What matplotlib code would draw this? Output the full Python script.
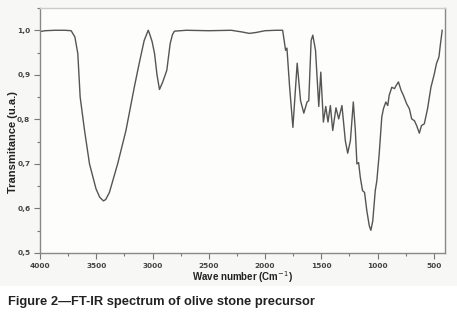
import matplotlib
matplotlib.use("Agg")
import matplotlib.pyplot as plt
from matplotlib.patches import Rectangle
from matplotlib.ticker import MultipleLocator, FuncFormatter

wavenumber = [4000, 3956, 3867, 3779, 3723, 3690, 3664, 3643, 3604, 3560, 3502, 3469, 3436, 3416,
              3383, 3310, 3236, 3162, 3118, 3074, 3038, 3027, 3004, 2982, 2960, 2938, 2909, 2873,
              2843, 2823, 2805, 2700, 2500, 2300, 2200, 2140, 2080, 2000, 1900, 1843, 1817, 1805,
              1781, 1752, 1714, 1684, 1655, 1626, 1611, 1590, 1575, 1551, 1522, 1504, 1481, 1460,
              1440, 1419, 1398, 1369, 1345, 1316, 1286, 1265, 1241, 1215, 1197, 1183, 1168, 1153,
              1133, 1115, 1095, 1073, 1059, 1042, 1020, 1006, 985, 962, 947, 926, 909, 896, 873,
              849, 834, 814, 790, 770, 741, 717, 696, 672, 652, 628, 609, 584, 555, 525, 495, 476,
              454, 440, 425]
transmittance = [0.997, 0.999, 1.0, 1.0, 0.999, 0.985, 0.948, 0.85, 0.775, 0.70, 0.644, 0.625,
                 0.617, 0.620, 0.636, 0.70, 0.775, 0.872, 0.926, 0.977, 1.0, 0.993, 0.975, 0.948,
                 0.90, 0.867, 0.884, 0.91, 0.97, 0.99, 0.998, 1.0, 0.999, 1.0, 0.996, 0.993, 0.995,
                 0.999, 1.0, 1.0, 0.955, 0.96, 0.872, 0.782, 0.926, 0.842, 0.814, 0.839, 0.842,
                 0.977, 0.989, 0.955, 0.829, 0.906, 0.794, 0.829, 0.794, 0.831, 0.775, 0.826, 0.801,
                 0.831, 0.752, 0.724, 0.752, 0.839, 0.775, 0.70, 0.703, 0.67, 0.64, 0.636, 0.595,
                 0.561, 0.551, 0.572, 0.64, 0.662, 0.722, 0.805, 0.824, 0.839, 0.831, 0.854, 0.872,
                 0.869, 0.876, 0.884, 0.865, 0.854, 0.835, 0.824, 0.801, 0.797, 0.786, 0.769, 0.786,
                 0.79, 0.824, 0.872, 0.902, 0.925, 0.94, 0.97, 1.0]

x_ticks = [4000, 3500, 3000, 2500, 2000, 1500, 1000, 500]
y_ticks = [0.5, 0.6, 0.7, 0.8, 0.9, 1.0]

W, H = 457, 322
fig = plt.figure(figsize=(W / 100, H / 100), dpi=100, facecolor="white")
fig.patches.append(Rectangle((0, 1 - 286 / H), 1, 286 / H, transform=fig.transFigure,
                             facecolor="#f7f7f5", edgecolor="none", zorder=-5))

ax = fig.add_axes([40 / W, 1 - 253 / H, 405 / W, 245 / H])
ax.set_zorder(2)
ax.set_facecolor("#fdfdfc")
ax.plot(wavenumber, transmittance, color="#555555", lw=1.0)
ax.set_xlim(4000, 400)
ax.set_ylim(0.5, 1.05)
ax.set_xticks(x_ticks)
ax.set_yticks(y_ticks)
ax.xaxis.set_minor_locator(MultipleLocator(250))
ax.yaxis.set_minor_locator(MultipleLocator(0.05))
ax.yaxis.set_major_formatter(FuncFormatter(lambda v, p: f"{v:.1f}".replace(".", ",")))
ax.tick_params(which="both", direction="out", colors="#777777", labelcolor="#444444",
               labelsize=5.3, width=0.8, pad=3)
ax.tick_params(which="major", length=4)
ax.tick_params(which="minor", length=2)
for lab in ax.get_xticklabels() + ax.get_yticklabels():
    lab.set_fontweight("bold")
for s in ax.spines.values():
    s.set_color("#888888")
    s.set_linewidth(1.0)
ax.spines["top"].set_color("#cccccc")

fig.text(242 / W, 1 - 277 / H, "Wave number (Cm$^{-1}$)", fontsize=7, fontweight="bold",
         color="#222222", family="Liberation Sans", ha="center", va="center")
fig.text(13 / W, 1 - 142 / H, "Transmitance (u.a.)", fontsize=8, fontweight="bold",
         color="#222222", family="Liberation Sans", ha="center", va="center", rotation=90)

fig.text(8 / W, 1 - 302 / H, "Figure 2\u2014FT-IR spectrum of olive stone precursor",
         fontsize=9.3, fontweight="bold", color="#222222", family="Liberation Sans",
         va="center", ha="left")

fig.savefig("out.png", dpi=100, facecolor="white")
